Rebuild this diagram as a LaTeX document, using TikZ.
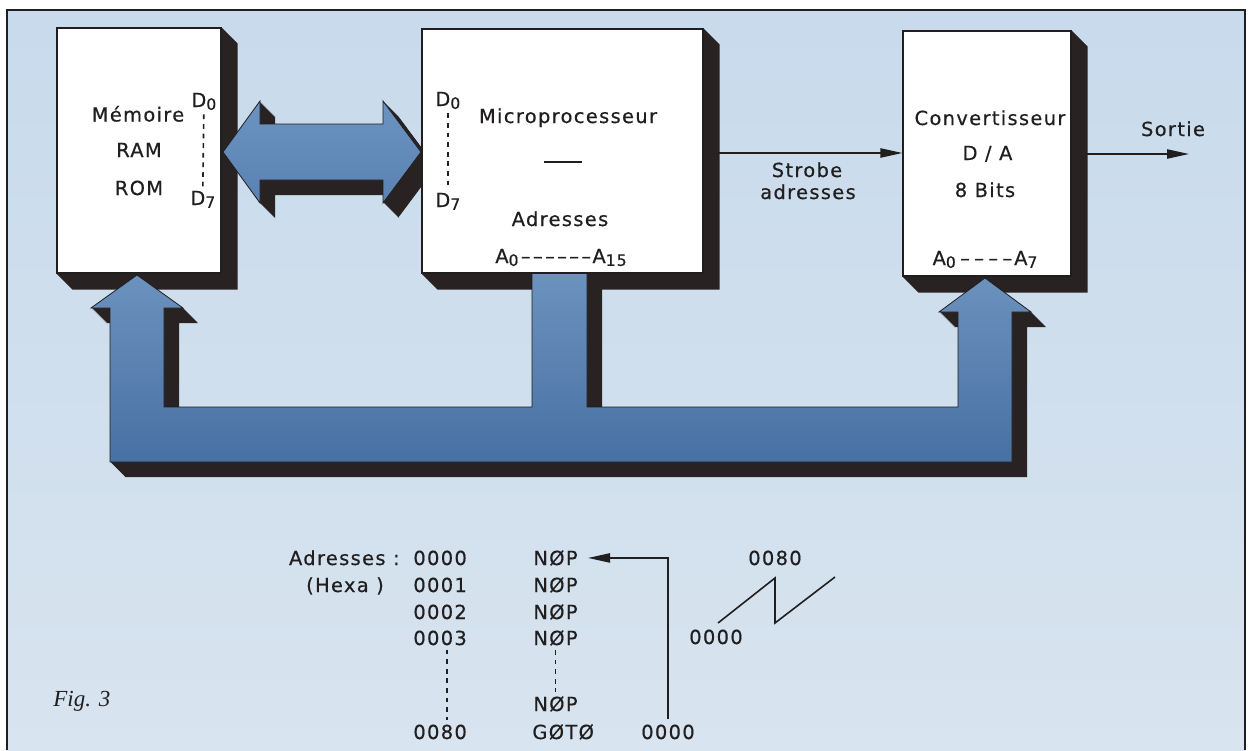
\documentclass[tikz,border=0pt]{standalone}
\usepackage{fontspec}
\setmainfont{DejaVu Sans}[LetterSpace=7,FakeBold=0.5]
\newfontfamily\figfont{Liberation Serif}
\usetikzlibrary{arrows.meta}
\definecolor{bgtop}{RGB}{200,218,236}
\definecolor{bgbot}{RGB}{216,228,239}
\definecolor{shad}{RGB}{40,34,34}
\definecolor{bustop}{RGB}{108,146,190}
\definecolor{busbot}{RGB}{72,112,162}
\definecolor{dbtop}{RGB}{108,147,192}
\definecolor{dbbot}{RGB}{90,130,178}
\definecolor{ink}{RGB}{32,30,30}
\newcommand\lblfont{\fontsize{9.7}{11}\selectfont}
\newcommand\sbs[1]{\raisebox{-1.4pt}{\fontsize{7.8}{8}\selectfont #1}}
\newcommand\dsp{\hspace{1.2pt}}
\pgfdeclarelayer{lbg}\pgfdeclarelayer{lsh}\pgfdeclarelayer{lbus}
\pgfsetlayers{lbg,lsh,lbus,main}
\tikzset{
  box/.style={draw=ink, fill=white, line width=0.6pt, inner sep=0pt},
  lab/.style={anchor=base, inner sep=0pt, text=ink, font=\lblfont},
  dsh/.style={draw=ink, line width=0.8pt, dash pattern=on 2.4pt off 2.4pt},
  sig/.style={draw=ink, line width=0.8pt, -{Triangle[length=11pt,width=4.6pt]}},
  fat/.style={draw=ink, line width=0.4pt},
}
\begin{document}
\begin{tikzpicture}[x=0.5pt,y=-0.5pt]
\useasboundingbox (0,0) rectangle (1253,750);
% background and frame
\begin{pgfonlayer}{lbg}
\fill[white] (0,0) rectangle (1253,750);
\shade[top color=bgtop, bottom color=bgbot] (7,10) rectangle (1245,750);
\draw[ink, line width=1.1pt] (7,750) -- (7,10) -- (1245,10) -- (1245,750);
\end{pgfonlayer}

% boxes
\node[box, minimum width=82pt, minimum height=122.5pt] (mem) at (139,150.5) {};
\node[box, minimum width=140.5pt, minimum height=122pt] (cpu) at (562.5,151) {};
\node[box, minimum width=84pt, minimum height=122.5pt] (dac) at (987,153.5) {};

\begin{pgfonlayer}{lsh}
\foreach \b in {mem,cpu,dac}{
  \fill[shad] (\b.north east) -- ++(16,16) -- ([shift={(16,16)}]\b.south east)
    -- ([shift={(16,16)}]\b.south west) -- (\b.south west) -- (\b.south east) -- cycle;
}
\end{pgfonlayer}

% fat arrows
\begin{pgfonlayer}{lbus}
\foreach \s in {1,...,15}{
  \fill[shad, shift={(\s,\s)}] (223,152) -- (260,101) -- (260,124) -- (383,124) -- (383,101)
    -- (421,152) -- (383,203) -- (383,180) -- (260,180) -- (260,203) -- cycle;
  \fill[shad, shift={(\s,\s)}] (137,275) -- (183,308) -- (164,308) -- (164,407) -- (532,407)
    -- (532,273) -- (587,273) -- (587,407) -- (958,407) -- (958,312) -- (939,312)
    -- (985,278) -- (1031,312) -- (1012,312) -- (1012,462) -- (110,462) -- (110,308)
    -- (91,308) -- cycle;
}
\shadedraw[fat, top color=dbtop, bottom color=dbbot] (223,152) -- (260,101) -- (260,124) -- (383,124) -- (383,101)
    -- (421,152) -- (383,203) -- (383,180) -- (260,180) -- (260,203) -- cycle;
\shadedraw[fat, top color=bustop, bottom color=busbot] (137,275) -- (183,308) -- (164,308) -- (164,407) -- (532,407)
    -- (532,273) -- (587,273) -- (587,407) -- (958,407) -- (958,312) -- (939,312)
    -- (985,278) -- (1031,312) -- (1012,312) -- (1012,462) -- (110,462) -- (110,308)
    -- (91,308) -- cycle;
\end{pgfonlayer}

% memory labels
\node[lab] (t1) at (138,121.5) {Mémoire};
\node[lab] (t2) at (139,157) {RAM};
\node[lab] (t3) at (139,195) {ROM};
\node[lab, anchor=base west] (md0) at (191,107) {D\sbs{0}};
\node[lab, anchor=base west] (md7) at (190,205) {D\sbs{7}};
\draw[dsh, shorten <=2pt, shorten >=2pt] (md0.south) -- (md7.north);

% cpu labels
\node[lab, anchor=base west] (cd0) at (435,106) {D\sbs{0}};
\node[lab, anchor=base west] (cd7) at (435,207) {D\sbs{7}};
\draw[dsh, shorten <=2pt, shorten >=2pt] (cd0.south) -- (cd7.north);
\node[lab] (cpun) at (568,123) {Microprocesseur};
\draw[ink, line width=0.8pt] (544,162) -- (582,162);
\node[lab] (adr) at (560,226) {Adresses};
\node[lab] (ca) at (561,263) {A\sbs{0}\dsp--\dsp--\dsp--\dsp--\dsp--\dsp--A\sbs{15}};

% strobe
\node[lab] (st1) at (807,177) {Strobe};
\node[lab] (st2) at (808,199) {adresses};
\coordinate (sa) at (718,153);
\draw[sig] (sa) -- (sa -| dac.west);

% dac labels
\node[lab] (dc1) at (990,125) {Convertisseur};
\node[lab] (dc2) at (987.5,160) {D / A};
\node[lab] (dc3) at (985,197) {8 Bits};
\node[lab] (da) at (985,265) {A\sbs{0}\hspace{2.2pt}--\hspace{2.2pt}--\hspace{2.2pt}--\hspace{2.2pt}--\hspace{1pt}A\sbs{7}};

% sortie
\node[lab] (sort) at (1173,136) {Sortie};
\coordinate (so) at (1087,154);
\coordinate (se) at (1189,154);
\draw[sig] (so) -- (se);

% lower listing
\node[lab, anchor=base east] (adrl) at (400,565) {Adresses :};
\node[lab] (hexa) at (345,592) {(Hexa )};
\node[lab, anchor=base west] (r0) at (413,565) {0000};
\node[lab, anchor=base west] (r1) at (413,592) {0001};
\node[lab, anchor=base west] (r2) at (413,619) {0002};
\node[lab, anchor=base west] (r3) at (413,645) {0003};
\node[lab, anchor=base west] (r4) at (413,739) {0080};
\draw[dsh, shorten <=2pt, shorten >=2pt] ([xshift=3.5pt]r3.south) -- ([xshift=3.5pt]r4.north);
\node[lab, anchor=base west] (n0) at (533,565) {NØP};
\node[lab, anchor=base west] (n1) at (533,592) {NØP};
\node[lab, anchor=base west] (n2) at (533,619) {NØP};
\node[lab, anchor=base west] (n3) at (533,645) {NØP};
\node[lab, anchor=base west] (n4) at (533,711) {NØP};
\node[lab, anchor=base west] (n5) at (532,739) {GØTØ};
\draw[dsh, shorten <=2pt, shorten >=2pt] (n3.south) -- (n4.north);
\node[lab] (z0) at (668,739) {0000};
\draw[sig, shorten <=2.5pt, shorten >=5pt] (z0.north) |- (n0.east);

% sawtooth
\coordinate (s0) at (718,623);
\coordinate (s1) at (775,578);
\coordinate (s2) at (775,623);
\coordinate (s3) at (835,577);
\draw[ink, line width=0.8pt] (s0) -- (s1) -- (s2) -- (s3);
\node[lab] (l80) at (775,565) {0080};
\node[lab] (l00) at (716,644) {0000};

% caption
\node[anchor=base west, inner sep=0pt, text=ink, font=\figfont\itshape\fontsize{11.5}{12}\selectfont] (fig) at (53,706) {Fig. 3};
\end{tikzpicture}
\end{document}
